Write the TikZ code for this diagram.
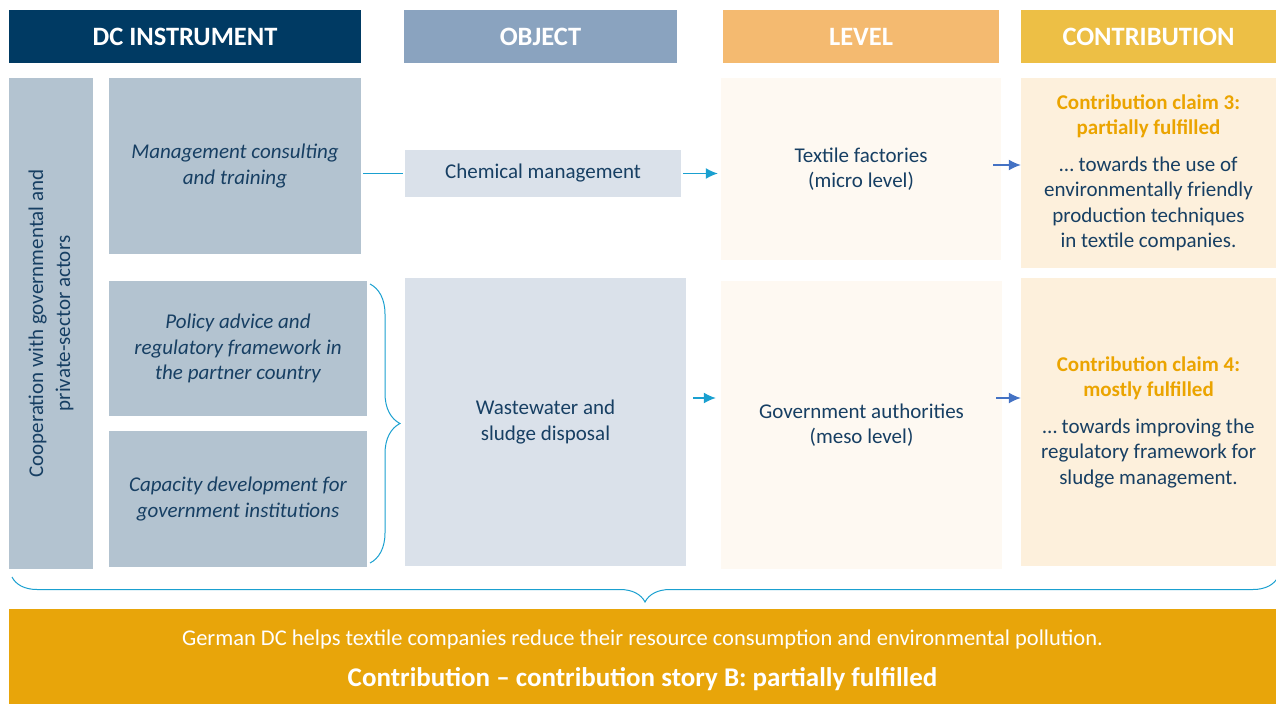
\documentclass[tikz,border=0pt]{standalone}
\usepackage{fontspec}
\setmainfont{Carlito}
\usetikzlibrary{positioning, arrows.meta, decorations.pathreplacing}

\definecolor{navyhead}{HTML}{003A63}
\definecolor{objhead}{HTML}{8AA3BF}
\definecolor{lvlhead}{HTML}{F4BA70}
\definecolor{conhead}{HTML}{EDBF45}
\definecolor{instrfill}{HTML}{B3C3D0}
\definecolor{objfill}{HTML}{DAE1EA}
\definecolor{lvlfill}{HTML}{FEF9F2}
\definecolor{confill}{HTML}{FDF0DC}
\definecolor{barfill}{HTML}{E8A50A}
\definecolor{txtblue}{HTML}{173F63}
\definecolor{claimorange}{HTML}{EBA400}
\definecolor{linkcyan}{HTML}{1AA0D0}
\definecolor{linkblue}{HTML}{4472C4}

\newcommand{\claimhead}[1]{\textcolor{claimorange}{\bfseries #1}}

\begin{document}
\begin{tikzpicture}[x=1pt,y=-1pt,
  box/.style={inner sep=0pt, align=center, text=txtblue, font=\fontsize{21}{25.5}\selectfont},
  hdr/.style={box, text=white, minimum height=53pt, font=\bfseries\fontsize{26.5}{30}\selectfont},
  instr/.style={box, fill=instrfill, font=\itshape\fontsize{21}{25.5}\selectfont},
  obj/.style={box, fill=objfill},
  lvl/.style={box, fill=lvlfill},
  contr/.style={box, fill=confill},
  link/.style={draw=linkcyan, line width=1.4pt},
  arr/.style={link, -{Latex[length=12pt,width=11pt]}},
  arrb/.style={arr, draw=linkblue},
  bracelink/.style={draw=linkcyan, line width=1pt, decorate}]
\useasboundingbox (0,0) rectangle (1276,704);

% les titres
\node[hdr, fill=navyhead, minimum width=352pt] (hInst) at (185,36.5) {DC INSTRUMENT};
\node[hdr, fill=objhead, minimum width=273pt] (hObj) at (540.5,36.5) {OBJECT};
\node[hdr, fill=lvlhead, minimum width=276pt] (hLvl) at (861,36.5) {LEVEL};
\node[hdr, fill=conhead, minimum width=255pt] (hCon) at (1148.5,36.5) {CONTRIBUTION};

% instruments
\node[box, fill=instrfill, rotate=90, minimum width=491pt, minimum height=84pt] (coop) at (51,323.5)
  {Cooperation with governmental and\\[1.5pt] private-sector actors};
\node[instr, minimum width=252pt, minimum height=176pt] (mgmt) at (235,166)
  {Management consulting\\ and training};
\node[instr, minimum width=258pt, minimum height=135pt] (policy) at (238,348.5)
  {Policy advice and\\ regulatory framework in\\ the partner country};
\node[instr, minimum width=258pt, minimum height=136pt] (capac) at (238,499)
  {Capacity development for\\ government institutions};

% objets
\node[obj, minimum width=276pt, minimum height=47pt] (chem) at (543,173.5) {Chemical management};
\node[obj, minimum width=281pt, minimum height=288pt] (waste) at (545.5,422) {Wastewater and\\ sludge disposal};

% niveaux
\node[lvl, minimum width=280pt, minimum height=182pt] (textile) at (861,169) {Textile factories\\ (micro level)};
\node[lvl, minimum width=281pt, minimum height=288pt] (gov) at (861.5,425) {Government authorities\\ (meso level)};

% contributions
\node[contr, minimum width=255pt, minimum height=190pt] (claim3) at (1148.5,173)
  {\claimhead{Contribution claim 3:}\\ \claimhead{partially fulfilled}\\[11pt]
   … towards the use of\\ environmentally friendly\\ production techniques\\ in textile companies.};
\node[contr, minimum width=255pt, minimum height=288pt] (claim4) at (1148.5,422)
  {\claimhead{Contribution claim 4:}\\ \claimhead{mostly fulfilled}\\[11pt]
   … towards improving the\\ regulatory framework for\\ sludge management.};

% la barre du bas
\node[box, fill=barfill, minimum width=1267pt, minimum height=95pt] (story) at (642.5,656.5) {};
\node[box, text=white, font=\fontsize{22.5}{27}\selectfont] (storytxt) at ([yshift=-4pt]story.center)
  {German DC helps textile companies reduce their resource consumption and environmental pollution.\\[14pt]
   {\bfseries\fontsize{27}{30}\selectfont Contribution -- contribution story B: partially fulfilled}};

% les liens
\draw[link, shorten <=2pt, shorten >=2pt] (mgmt.east |- chem.west) -- (chem.west);
\draw[arr, shorten <=2pt, shorten >=3pt] (chem.east) -- (chem.east -| textile.west);
\coordinate (t3) at ([xshift=-8pt,yshift=4pt]textile.east);
\draw[arrb] (t3) -- (t3 -| claim3.west);
\coordinate (w4) at ([xshift=7pt,yshift=24pt]waste.east);
\draw[arr, shorten >=5pt] (w4) -- (w4 -| gov.west);
\coordinate (g4) at ([xshift=-6pt,yshift=27pt]gov.east);
\draw[arrb] (g4) -- (g4 -| claim4.west);

% les accolades
\coordinate (brTop) at (370,284);
\coordinate (brBot) at (370,563);
\draw[bracelink, decoration={brace, amplitude=30pt}] (brTop) -- (brBot);
\coordinate (brLeft) at (12,577);
\coordinate (brRight) at (1278,577);
\draw[bracelink, decoration={brace, amplitude=25pt, mirror}] (brLeft) -- (brRight);

\end{tikzpicture}
\end{document}
